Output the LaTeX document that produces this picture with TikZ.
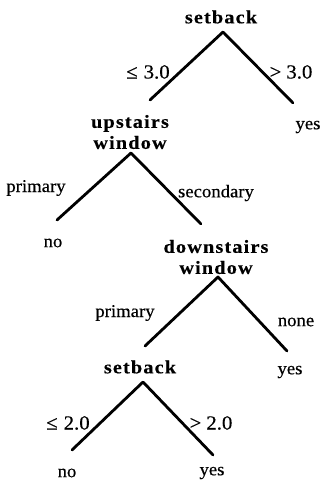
\documentclass[tikz,border=0pt]{standalone}
\usepackage{fontspec}
\setmainfont[FakeStretch=1.04,FakeBold=0.4]{Liberation Serif}
\newfontfamily\attrfont[FakeStretch=1.1,LetterSpace=6,FakeBold=0.3]{Liberation Serif Bold}
\begin{document}
\begin{tikzpicture}[x=1pt,y=-1pt,
  attr/.style={font=\attrfont\fontsize{18.5}{21}\selectfont, align=center, inner sep=0pt},
  leaf/.style={font=\fontsize{18}{20}\selectfont, inner sep=0pt},
  cond/.style={font=\fontsize{18}{20}\selectfont, inner sep=0pt},
  numcond/.style={font=\fontsize{20}{22}\selectfont, inner sep=0pt},
  branch/.style={line width=2.8pt, line cap=round, line join=round}]
\useasboundingbox (0,0) rectangle (321,487);
% attribute tests
\node[attr] (root) at (221,17) {setback};
\node[attr] (up) at (130,132) {upstairs\\window};
\node[attr] (down) at (216,257) {downstairs\\window};
\node[attr] (sb) at (140,367) {setback};
% outcomes
\node[leaf] (yes1) at (308,127) {yes};
\node[leaf] (no1) at (53,243) {no};
\node[leaf] (yes2) at (290,372) {yes};
\node[leaf] (no2) at (67,473) {no};
\node[leaf] (yes3) at (212,473) {yes};
% branch end points
\coordinate (a1) at (223,32);  \coordinate (l1) at (150,100); \coordinate (r1) at (293,103);
\coordinate (a2) at (131,153); \coordinate (l2) at (57,220);  \coordinate (r2) at (201,224);
\coordinate (a3) at (218,277); \coordinate (l3) at (145,346); \coordinate (r3) at (287,351);
\coordinate (a4) at (143,382); \coordinate (l4) at (72,450);  \coordinate (r4) at (213,455);
\draw[branch] (l1) -- (a1) -- (r1);
\draw[branch] (l2) -- (a2) -- (r2);
\draw[branch] (l3) -- (a3) -- (r3);
\draw[branch] (l4) -- (a4) -- (r4);
% branch conditions
\node[numcond] (c1l) at (148,72) {≤\hspace{6pt}3.0};
\node[numcond] (c1r) at (291,72) {>\hspace{5pt}3.0};
\node[cond] (c2l) at (36,188) {primary};
\node[cond] (c2r) at (216,193) {secondary};
\node[cond] (c3l) at (125,313) {primary};
\node[cond] (c3r) at (296,322) {none};
\node[numcond] (c4l) at (68,423) {≤\hspace{6pt}2.0};
\node[numcond] (c4r) at (211,423) {>\hspace{5pt}2.0};
\end{tikzpicture}
\end{document}
